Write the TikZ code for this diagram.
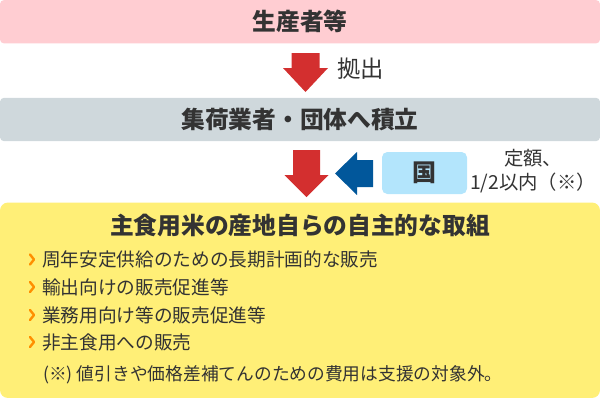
\documentclass[tikz,border=0pt]{standalone}
\usepackage{fontspec}
\setmainfont{Noto Sans CJK JP}
\usepackage{xcolor}
\usepackage{tikz}
\usetikzlibrary{positioning,calc}
\definecolor{ink}{HTML}{333333}
\definecolor{pinkbg}{HTML}{FFCDD2}
\definecolor{greybg}{HTML}{CFD8DC}
\definecolor{skybg}{HTML}{B3E5FC}
\definecolor{yelbg}{HTML}{FFEF77}
\definecolor{arred}{HTML}{D32F2F}
\definecolor{arblue}{HTML}{01579B}
\definecolor{chevor}{HTML}{FF8F00}
\tikzset{
  band/.style={rectangle, rounded corners=3pt, inner sep=0pt, text=ink,
               minimum width=450pt, minimum height=32.5pt,
               font=\bfseries\fontsize{17.8}{20}\selectfont},
  govbox/.style={rectangle, rounded corners=4pt, inner sep=0pt, fill=skybg, text=ink,
                 minimum width=63.75pt, minimum height=31.5pt,
                 font=\bfseries\fontsize{18}{20}\selectfont},
  panel/.style={rectangle, rounded corners=6pt, inner sep=0pt, fill=yelbg,
                minimum width=450pt, minimum height=146.6pt},
  ttl/.style={font=\bfseries\fontsize{17.8}{20}\selectfont, text=ink, inner sep=0pt},
  item/.style={anchor=west, font=\fontsize{14}{16}\selectfont, text=ink, inner sep=0pt},
  lbl/.style={font=\fontsize{17.5}{20}\selectfont, text=ink, inner sep=0pt},
  amt/.style={align=center, font=\fontsize{14.5}{18}\selectfont, text=ink, inner sep=0pt},
  chev/.style={draw=chevor, line width=1.8pt, line cap=round, line join=round},
}

\begin{document}
\begin{tikzpicture}[x=0.75pt, y=-0.75pt]
\useasboundingbox (0,0) rectangle (600,400);
% boxes
\node[band, fill=pinkbg] (prod) at (300,21.75) {生産者等};
\node[band, fill=greybg] (stock) at (300,119.5) {集荷業者・団体へ積立};
\node[govbox] (kuni) at (424.5,173) {国};
\node[amt] (rate) at (533,171.5) {定額、\\1/2以内（※）};
\node[panel] (main) at (300,300.25) {};
\node[ttl] (title) at (300,225) {主食用米の産地自らの自主的な取組};
% block arrows
\coordinate (a1) at (305.5,53);
\coordinate (a2) at (306.5,150);
\coordinate (a3) at (335,173.5);
\fill[arred, shift={(a1)}] (-14,0) -- (14,0) -- (14,15) -- (22.5,15) -- (0,39)
  -- (-22.5,15) -- (-14,15) -- cycle;
\node[lbl, anchor=west] (kyo) at (337,68.5) {拠出};
\fill[arred, shift={(a2)}] (-13.5,0) -- (13.5,0) -- (13.5,25) -- (22,25) -- (0,47)
  -- (-22,25) -- (-13.5,25) -- cycle;
\fill[arblue, shift={(a3)}] (0,0) -- (22,-21.5) -- (22,-13.5) -- (38,-13.5)
  -- (38,13.5) -- (22,13.5) -- (22,21.5) -- cycle;
% list
\node[item] (i1) at (42,259.5) {周年安定供給のための長期計画的な販売};
\node[item] (i2) at (42,287) {輸出向けの販売促進等};
\node[item] (i3) at (42,315) {業務用向け等の販売促進等};
\node[item] (i4) at (42,342) {非主食用への販売};
\node[item, font=\fontsize{13.3}{16}\selectfont] (note) at (43,375)
  {(※) 値引きや価格差補てんのための費用は支援の対象外。};
\draw[chev] ($(i1.west)+(-12,-5)$) -- ++(4,5) -- ++(-4,5);
\draw[chev] ($(i2.west)+(-12,-5)$) -- ++(4,5) -- ++(-4,5);
\draw[chev] ($(i3.west)+(-12,-5)$) -- ++(4,5) -- ++(-4,5);
\draw[chev] ($(i4.west)+(-12,-5)$) -- ++(4,5) -- ++(-4,5);
\end{tikzpicture}
\end{document}
